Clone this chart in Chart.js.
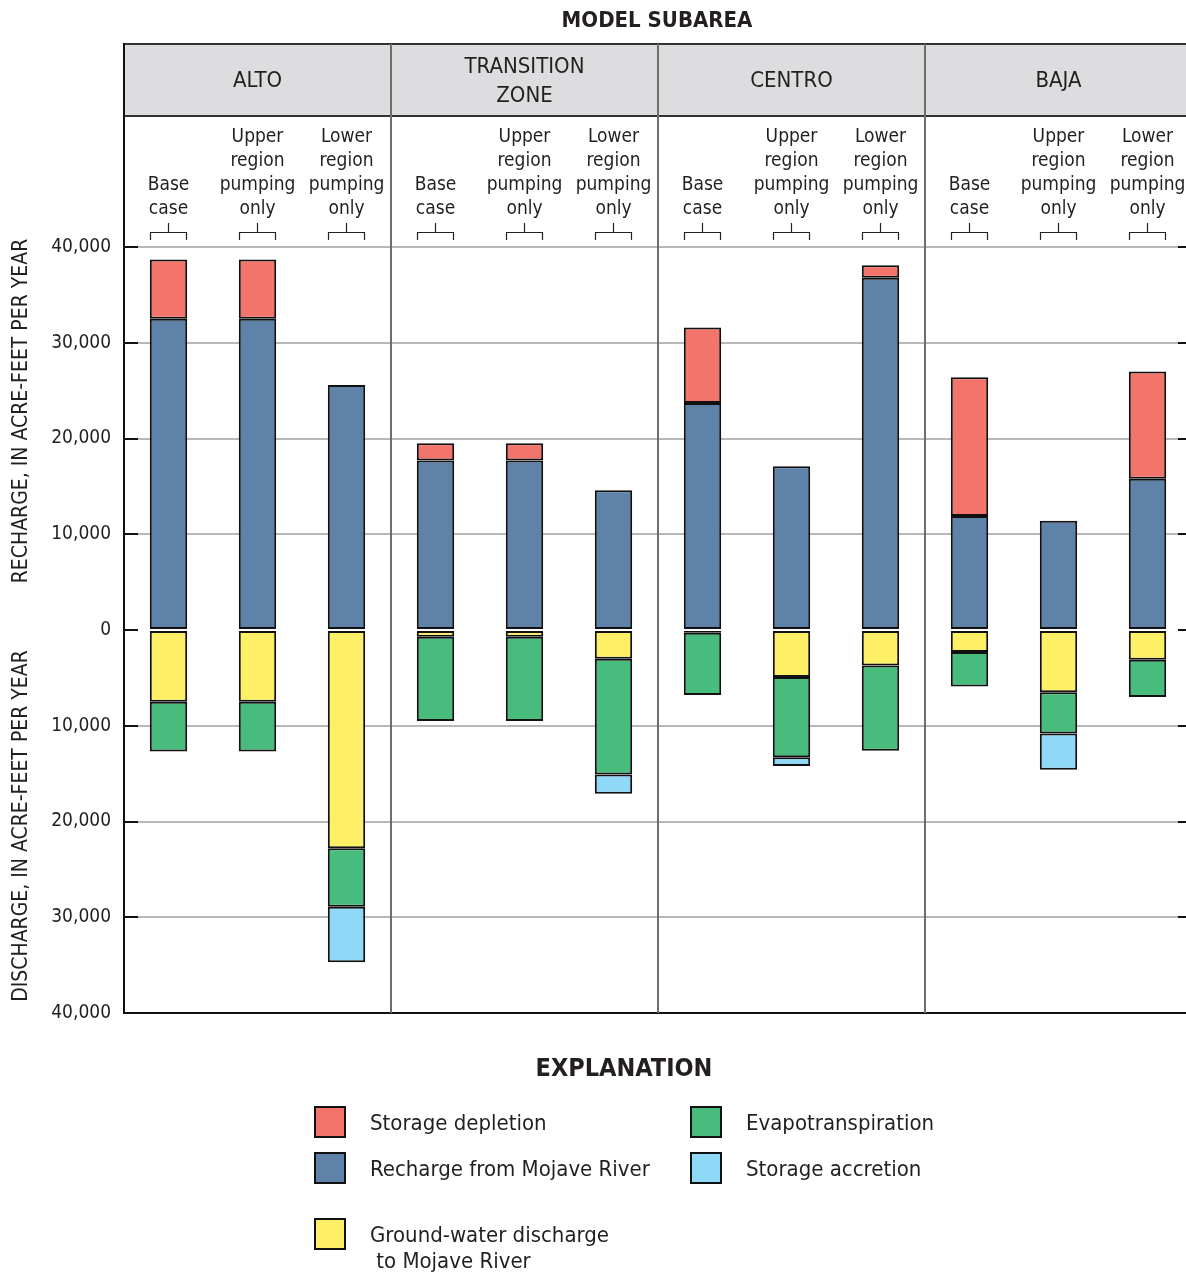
<!DOCTYPE html>
<html>
<head>
<meta charset="utf-8">
<title>Model subarea water budget</title>
<script src="https://cdn.jsdelivr.net/npm/chart.js@4.4.1/dist/chart.umd.min.js"></script>
<style>
  html, body { margin: 0; padding: 0; background: #fff; overflow: hidden; }
  #wrap { width: 1200px; height: 1275px; }
</style>
</head>
<body>
<div id="wrap"><canvas id="budget" width="1200" height="1275"></canvas></div>
<script>
// Data (acre-feet per year)
const subareas = [['ALTO'], ['TRANSITION', 'ZONE'], ['CENTRO'], ['BAJA']];
const scenarios = [['Base', 'case'], ['Upper', 'region', 'pumping', 'only'], ['Lower', 'region', 'pumping', 'only']];
const categories = ['Alto base', 'Alto upper', 'Alto lower',
  'Transition base', 'Transition upper', 'Transition lower',
  'Centro base', 'Centro upper', 'Centro lower',
  'Baja base', 'Baja upper', 'Baja lower'];

const recharge    = [32500, 32500, 25600, 17700, 17700, 14600, 23700, 17100, 36800, 11900, 11400, 15800];
const depletion   = [6200, 6200, null, 1800, 1800, null, 7900, null, 1300, 14500, null, 11200];
const gwDischarge = [-7500, -7500, -22800, -700, -700, -3000, -300, -4900, -3700, -2300, -6500, -3100];
const evapo       = [-5200, -5200, -6100, -8800, -8800, -12100, -6500, -8400, -8900, -3600, -4300, -3900];
const accretion   = [null, null, -5800, null, null, -2000, null, -900, null, null, -3800, null];

const yTicks = [-40000, -30000, -20000, -10000, 0, 10000, 20000, 30000, 40000];

const legendLabels = {
  depletion: ['Storage depletion'],
  recharge: ['Recharge from Mojave River'],
  gw: ['Ground-water discharge', ' to Mojave River'],
  et: ['Evapotranspiration'],
  accretion: ['Storage accretion']
};

// Colors
const COLORS = {
  depletion: '#f2746a',
  recharge: '#5f82a8',
  gw: '#fdf067',
  et: '#48bc7d',
  accretion: '#90d8f7'
};
const FONT = "'Liberation Sans Narrow', 'DejaVu Sans Condensed', 'Arial Narrow', sans-serif";
const TEXT = '#231f20';

function makeSet(label, data, color) {
  return {
    label: label,
    data: data,
    backgroundColor: color,
    borderColor: '#111',
    borderWidth: 2,
    borderSkipped: false,
    categoryPercentage: 1,
    barPercentage: 0.42,
    stack: 'budget'
  };
}

// Header, dividers, axis titles and explanation drawn over the chart
const decorations = {
  id: 'decorations',
  afterDraw(chart) {
    const ctx = chart.ctx;
    const area = chart.chartArea;
    const x = chart.scales.x;
    const y = chart.scales.y;
    const groupW = (area.right - area.left) / subareas.length;
    const headTop = 44, headBottom = 116;

    ctx.save();
    // gray header band
    ctx.fillStyle = '#dddde0';
    ctx.fillRect(area.left, headTop, area.right - area.left, headBottom - headTop);
    ctx.strokeStyle = '#333';
    ctx.lineWidth = 2;
    ctx.beginPath();
    ctx.moveTo(area.left, headTop); ctx.lineTo(area.right + 10, headTop);
    ctx.moveTo(area.left, headBottom); ctx.lineTo(area.right + 10, headBottom);
    ctx.stroke();

    // left frame and bottom frame
    ctx.strokeStyle = '#111';
    ctx.beginPath();
    ctx.moveTo(area.left, headTop - 1); ctx.lineTo(area.left, area.bottom + 1);
    ctx.moveTo(area.left, area.bottom); ctx.lineTo(area.right + 10, area.bottom);
    ctx.stroke();

    // group dividers
    ctx.strokeStyle = '#6e6e6e';
    ctx.beginPath();
    for (let g = 1; g < subareas.length; g++) {
      const gx = Math.round(area.left + g * groupW);
      ctx.moveTo(gx, headTop); ctx.lineTo(gx, area.bottom);
    }
    ctx.stroke();

    // tick marks inside both sides
    ctx.strokeStyle = '#111';
    ctx.beginPath();
    yTicks.forEach(v => {
      const py = Math.round(y.getPixelForValue(v));
      ctx.moveTo(area.left, py); ctx.lineTo(area.left + 14, py);
      ctx.moveTo(area.right - 14, py); ctx.lineTo(area.right, py);
    });
    ctx.stroke();

    // title
    ctx.fillStyle = TEXT;
    ctx.textAlign = 'center';
    ctx.textBaseline = 'middle';
    ctx.font = 'bold 22px ' + FONT;
    ctx.fillText('MODEL SUBAREA', 657, 21);

    // subarea names
    ctx.font = '22px ' + FONT;
    subareas.forEach((lines, g) => {
      const cx = area.left + (g + 0.5) * groupW;
      const startY = lines.length === 1 ? 81 : 67;
      lines.forEach((t, i) => ctx.fillText(t, cx, startY + i * 29));
    });

    // scenario labels and brackets
    ctx.font = '19px ' + FONT;
    categories.forEach((c, i) => {
      const cx = x.getPixelForValue(i);
      const lines = scenarios[i % 3];
      lines.forEach((t, k) => {
        ctx.fillText(t, cx, 209 - (lines.length - 1 - k) * 24);
      });
      ctx.strokeStyle = '#222';
      ctx.lineWidth = 1.2;
      ctx.beginPath();
      ctx.moveTo(cx - 18, 240); ctx.lineTo(cx - 18, 232.5); ctx.lineTo(cx + 18, 232.5); ctx.lineTo(cx + 18, 240);
      ctx.moveTo(cx, 232.5); ctx.lineTo(cx, 223);
      ctx.stroke();
    });

    // rotated axis titles
    ctx.font = '21px ' + FONT;
    ctx.save();
    ctx.translate(22, 411);
    ctx.rotate(-Math.PI / 2);
    ctx.fillText('RECHARGE, IN ACRE-FEET PER YEAR', 0, 0);
    ctx.restore();
    ctx.save();
    ctx.translate(22, 826);
    ctx.rotate(-Math.PI / 2);
    ctx.fillText('DISCHARGE, IN ACRE-FEET PER YEAR', 0, 0);
    ctx.restore();

    // explanation
    ctx.font = 'bold 25px ' + FONT;
    ctx.fillText('EXPLANATION', 624, 1069);
    const items = [
      { key: 'depletion', bx: 314, by: 1106 },
      { key: 'recharge', bx: 314, by: 1152 },
      { key: 'gw', bx: 314, by: 1218 },
      { key: 'et', bx: 690, by: 1106 },
      { key: 'accretion', bx: 690, by: 1152 }
    ];
    ctx.textAlign = 'left';
    ctx.font = '22px ' + FONT;
    items.forEach(it => {
      ctx.fillStyle = COLORS[it.key];
      ctx.fillRect(it.bx, it.by, 32, 32);
      ctx.strokeStyle = '#111';
      ctx.lineWidth = 2;
      ctx.strokeRect(it.bx + 1, it.by + 1, 30, 30);
      ctx.fillStyle = TEXT;
      legendLabels[it.key].forEach((t, k) => {
        ctx.fillText(t, it.bx + 56, it.by + 18 + k * 26);
      });
    });
    ctx.restore();
  }
};

new Chart(document.getElementById('budget'), {
  type: 'bar',
  data: {
    labels: categories,
    datasets: [
      makeSet('Recharge from Mojave River', recharge, COLORS.recharge),
      makeSet('Storage depletion', depletion, COLORS.depletion),
      makeSet('Ground-water discharge to Mojave River', gwDischarge, COLORS.gw),
      makeSet('Evapotranspiration', evapo, COLORS.et),
      makeSet('Storage accretion', accretion, COLORS.accretion)
    ]
  },
  options: {
    responsive: false,
    animation: false,
    layout: { padding: { top: 247, right: 8, bottom: 262, left: 0 } },
    plugins: {
      legend: { display: false },
      tooltip: { enabled: false }
    },
    scales: {
      x: {
        stacked: true,
        display: false
      },
      y: {
        stacked: true,
        min: -40000,
        max: 40000,
        afterFit(scale) { scale.width = 124; },
        afterBuildTicks(scale) { scale.ticks = yTicks.map(v => ({ value: v })); },
        border: { display: false },
        grid: {
          drawTicks: false,
          lineWidth: 2,
          color: c => (c.tick && (c.tick.value === 0 || c.tick.value === -40000)) ? 'rgba(0,0,0,0)' : '#b8b8b8'
        },
        ticks: {
          padding: 13,
          color: TEXT,
          font: { family: FONT, size: 19 },
          callback: v => Math.abs(v).toLocaleString('en-US')
        }
      }
    }
  },
  plugins: [decorations]
});
</script>
</body>
</html>
